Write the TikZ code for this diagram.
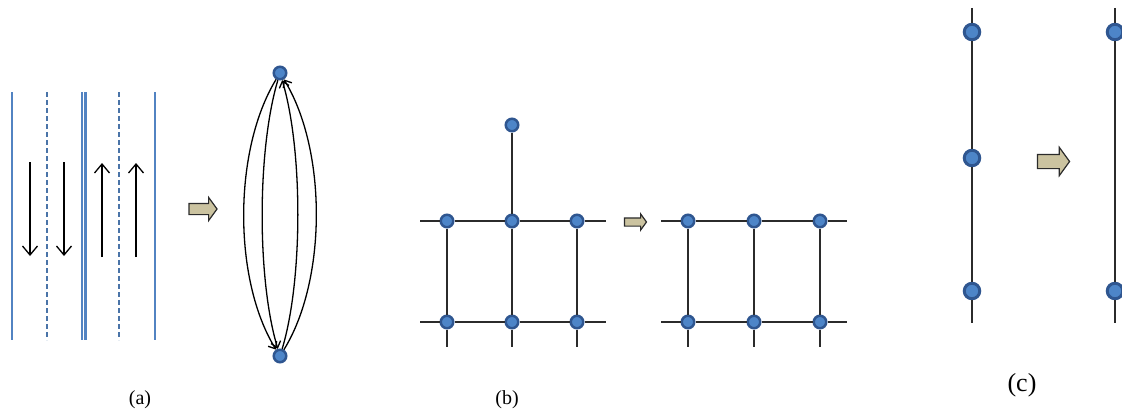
\documentclass[tikz,border=0pt]{standalone}
\usepackage{fontspec}
\setmainfont{Liberation Serif}
\usetikzlibrary{arrows.meta,shapes.arrows}
\definecolor{lane}{HTML}{5283C2}
\definecolor{lanedk}{HTML}{4A74A8}
\definecolor{dotfill}{HTML}{4D85C8}
\definecolor{dotring}{HTML}{2F5690}
\definecolor{tanfill}{HTML}{CBC3A0}
\definecolor{ink}{HTML}{2B2B2B}
\tikzset{
 dot/.style={circle, fill=dotfill, draw=dotring, line width=2.5pt, minimum size=12.5pt, inner sep=0pt},
 bigdot/.style={dot, minimum size=15.5pt, line width=3pt},
 edge/.style={draw=ink, line width=1.6pt},
 lanesolid/.style={draw=lane, line width=2.2pt},
 lanedash/.style={draw=lanedk, line width=1.3pt, dash pattern=on 5pt off 3pt},
 flow/.style={draw=black, line width=1.3pt, -{Straight Barb[length=9pt,width=15pt,line width=1.3pt]}},
 arcflow/.style={draw=black, line width=1.3pt, -{Straight Barb[length=6pt,width=10pt,line width=1.3pt]}},
 fat/.style={single arrow, draw=ink, fill=tanfill, line width=1.2pt, single arrow tip angle=108},
 lab/.style={font=\fontsize{20}{22}\selectfont, inner sep=0pt}
}
\begin{document}
\begin{tikzpicture}[x=1pt,y=-1pt]
\useasboundingbox (0,0) rectangle (1122,412);
\clip (0,0) rectangle (1122,412);
% ---------- panel (a) ----------
\foreach \x/\n in {12/l1,82/l3,85.5/l4,155/l6}{
  \coordinate (\n a) at (\x,92); \coordinate (\n b) at (\x,340);
  \draw[lanesolid] (\n a) -- (\n b);}
\foreach \x/\n in {47/l2,119/l5}{
  \coordinate (\n a) at (\x,92); \coordinate (\n b) at (\x,340);
  \draw[lanedash] (\n a) -- (\n b);}
\foreach \x/\n in {30/f1,64/f2}{
  \coordinate (\n a) at (\x,162); \coordinate (\n b) at (\x,256);
  \draw[flow] (\n a) -- (\n b);}
\foreach \x/\n in {102/f3,136/f4}{
  \coordinate (\n a) at (\x,257); \coordinate (\n b) at (\x,163);
  \draw[flow] (\n a) -- (\n b);}
\node[fat, inner sep=5pt, single arrow head extend=6pt, minimum height=28pt] (arA) at (201,209) {};
\node[dot] (t) at (280,73) {};
\node[dot] (bt) at (280,356) {};
\draw[arcflow] (t) .. controls (233,150) and (233,280) .. (bt);
\draw[arcflow] (t) .. controls (257,150) and (257,280) .. (bt);
\draw[arcflow] (bt) .. controls (303,280) and (303,150) .. (t);
\draw[arcflow] (bt) .. controls (327,280) and (327,150) .. (t);
\node[lab] (la) at (140,400) {(a)};
% ---------- panel (b) ----------
\node[dot] (p0) at (512,125) {};
\node[dot] (p1) at (447,221) {};
\node[dot] (p2) at (512,221) {};
\node[dot] (p3) at (577,221) {};
\node[dot] (p4) at (447,322) {};
\node[dot] (p5) at (512,322) {};
\node[dot] (p6) at (577,322) {};
\coordinate (h1l) at (420,221); \coordinate (h1r) at (606,221);
\coordinate (h2l) at (420,322); \coordinate (h2r) at (606,322);
\coordinate (v1) at (447,347); \coordinate (v2) at (512,347); \coordinate (v3) at (577,347);
\draw[edge] (h1l) -- (p1) -- (p2) -- (p3) -- (h1r);
\draw[edge] (h2l) -- (p4) -- (p5) -- (p6) -- (h2r);
\draw[edge] (p0) -- (p2) -- (p5) -- (v2);
\draw[edge] (p1) -- (p4) -- (v1);
\draw[edge] (p3) -- (p6) -- (v3);
\node[fat, inner sep=3.5pt, single arrow head extend=4pt, minimum height=22pt] (arB) at (634,222) {};
\node[dot] (q1) at (688,221) {};
\node[dot] (q2) at (754,221) {};
\node[dot] (q3) at (820,221) {};
\node[dot] (q4) at (688,322) {};
\node[dot] (q5) at (754,322) {};
\node[dot] (q6) at (820,322) {};
\coordinate (k1l) at (661,221); \coordinate (k1r) at (847,221);
\coordinate (k2l) at (661,322); \coordinate (k2r) at (847,322);
\coordinate (w1) at (688,347); \coordinate (w2) at (754,347); \coordinate (w3) at (820,347);
\draw[edge] (k1l) -- (q1) -- (q2) -- (q3) -- (k1r);
\draw[edge] (k2l) -- (q4) -- (q5) -- (q6) -- (k2r);
\draw[edge] (q1) -- (q4) -- (w1);
\draw[edge] (q2) -- (q5) -- (w2);
\draw[edge] (q3) -- (q6) -- (w3);
\node[lab] (lb) at (507,400) {(b)};
% ---------- panel (c) ----------
\node[bigdot] (c1) at (972,32) {};
\node[bigdot] (c2) at (972,158) {};
\node[bigdot] (c3) at (972,291) {};
\coordinate (ct) at (972,8); \coordinate (cb) at (972,323);
\draw[edge] (ct) -- (c1) -- (c2) -- (c3) -- (cb);
\node[fat, inner sep=6.5pt, single arrow head extend=7pt, minimum height=32pt] (arC) at (1051,161.5) {};
\node[bigdot] (d1) at (1115,32) {};
\node[bigdot] (d2) at (1115,291) {};
\coordinate (dt) at (1115,8); \coordinate (db) at (1115,323);
\draw[edge] (dt) -- (d1) -- (d2) -- (db);
\node[lab, font=\fontsize{26}{28}\selectfont] (lc) at (1022,385) {(c)};
\end{tikzpicture}
\end{document}
